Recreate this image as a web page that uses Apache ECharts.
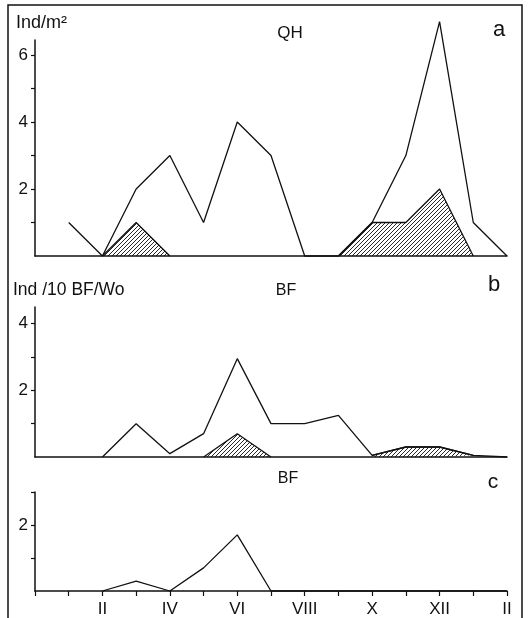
<!DOCTYPE html>
<html>
<head>
<meta charset="utf-8">
<script src="https://cdn.jsdelivr.net/npm/echarts@6/dist/echarts.min.js"></script>
<style>html,body{margin:0;padding:0;background:#fff}#c{width:530px;height:618px}</style>
</head>
<body>
<div id="c"></div>
<script>
// Month positions (index 0 = previous December)
const months = ['XII','I','II','III','IV','V','VI','VII','VIII','IX','X','XI','XII','I','II'];
// Panel a (QH, Ind/m²)
const aTotal   = [null, 1, 0, 2, 3, 1, 4, 3, 0, 0, 1, 3, 7, 1, 0];
const aHatched = [null, null, 0, 1, 0, null, null, null, null, 0, 1, 1, 2, 0, null];
// Panel b (BF, Ind/10 BF/Wo)
const bTotal   = [null, null, 0, 1, 0.1, 0.7, 2.95, 1, 1, 1.25, 0.05, 0.3, 0.3, 0.05, 0];
const bHatched = [null, null, null, null, null, 0, 0.7, 0, null, null, 0.05, 0.3, 0.3, 0.05, null];
// Panel c (BF)
const cTotal   = [null, null, 0, 0.3, 0, 0.7, 1.7, 0, 0, 0, 0, 0, 0, 0, 0];
// Axis ticks / labels
const aTicks = [1, 2, 3, 4, 5, 6], aLabels = [2, 4, 6];
const bTicks = [1, 2, 3, 4], bLabels = [2, 4];
const cTicks = [1, 2, 3], cLabels = [2];

const INK = '#111';
const FONT = '"Liberation Sans", Arial, sans-serif';

// hatch pattern
const pc = document.createElement('canvas');
pc.width = 4; pc.height = 4;
const g = pc.getContext('2d');
g.strokeStyle = INK; g.lineWidth = 0.9;
g.beginPath();
g.moveTo(0, 4); g.lineTo(4, 0);
g.moveTo(-1, 1); g.lineTo(1, -1);
g.moveTo(3, 5); g.lineTo(5, 3);
g.stroke();
const hatch = { image: pc, repeat: 'repeat' };

const chart = echarts.init(document.getElementById('c'), null, { renderer: 'canvas' });

const grids = [
  { left: 35, right: 23, top: 40, bottom: 362 },
  { left: 35, right: 23, top: 307, bottom: 161 },
  { left: 35, right: 23, top: 492, bottom: 26 }
];

function xAx(i, showTicks) {
  return {
    type: 'category', gridIndex: i, data: months, boundaryGap: false,
    axisLine: { lineStyle: { color: INK, width: 1.5 } },
    axisTick: { show: showTicks, interval: 0, length: 5, lineStyle: { color: INK, width: 1.2 } },
    axisLabel: {
      show: showTicks, margin: 10, color: INK, fontSize: 17, fontFamily: FONT,
      interval: (idx) => idx > 0 && idx % 2 === 0
    },
    splitLine: { show: false }
  };
}
function yAx(i, max, ticks, labels) {
  return {
    type: 'value', gridIndex: i, min: 0, max: max,
    axisLine: { show: true, lineStyle: { color: INK, width: 1.5 } },
    axisTick: { show: true, length: 4, customValues: ticks, lineStyle: { color: INK, width: 1.2 } },
    axisLabel: { customValues: labels, margin: 7, color: INK, fontSize: 17, fontFamily: FONT },
    splitLine: { show: false }
  };
}
function line(i, data, hatched) {
  const s = {
    type: 'line', xAxisIndex: i, yAxisIndex: i, data: data,
    symbol: 'none', connectNulls: false, clip: false, silent: true,
    lineStyle: { color: INK, width: 1.3 }, z: hatched ? 3 : 2
  };
  if (hatched) s.areaStyle = { color: hatch, opacity: 1 };
  return s;
}
function txt(text, x, y, size, align) {
  return { type: 'text', x: x, y: y, silent: true,
    style: { text: text, fill: INK, font: size + 'px ' + FONT, textAlign: align || 'left', textVerticalAlign: 'middle' } };
}

chart.setOption({
  animation: false,
  backgroundColor: '#fff',
  grid: grids,
  xAxis: [xAx(0, false), xAx(1, false), xAx(2, true)],
  yAxis: [yAx(0, 6.45, aTicks, aLabels), yAx(1, 4.5, bTicks, bLabels), yAx(2, 3, cTicks, cLabels)],
  series: [
    line(0, aTotal, false), line(0, aHatched, true),
    line(1, bTotal, false), line(1, bHatched, true),
    line(2, cTotal, false)
  ],
  graphic: [
    { type: 'rect', silent: true, shape: { x: 8, y: 5, width: 514, height: 700 },
      style: { fill: 'none', stroke: INK, lineWidth: 1.5 } },
    txt('Ind/m²', 16, 23, 18),
    txt('QH', 290, 33, 17, 'center'),
    txt('a', 499, 30, 22, 'center'),
    txt('Ind /10 BF/Wo', 13, 290, 17.5),
    txt('BF', 286, 290.5, 16, 'center'),
    txt('b', 494, 285, 22, 'center'),
    txt('BF', 288, 479, 16, 'center'),
    txt('c', 493, 482, 21, 'center')
  ]
});
</script>
</body>
</html>
